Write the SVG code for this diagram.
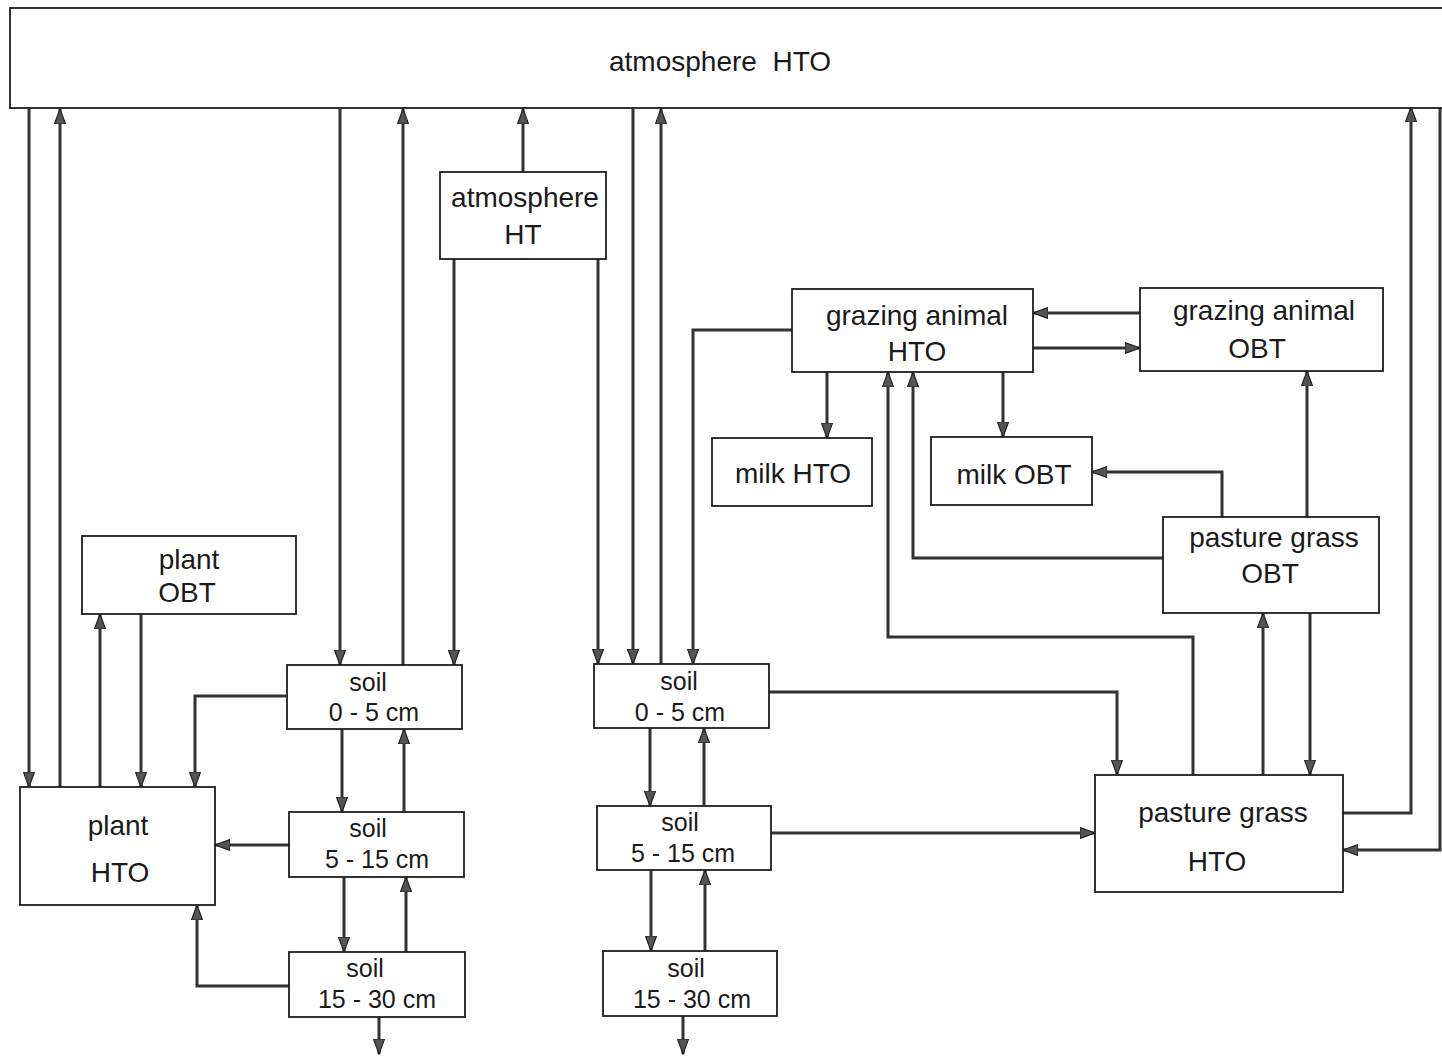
<svg xmlns="http://www.w3.org/2000/svg" width="1442" height="1057" viewBox="0 0 1442 1057">
<style>
.box{fill:#fff;stroke:#1e1e1e;stroke-width:1.8}
.t{font-family:"Liberation Sans",Arial,sans-serif;font-size:28px;fill:#1a1a1a;text-anchor:middle}
.s{font-size:25px}
.c{fill:none;stroke:#333;stroke-width:3;marker-end:url(#ah)}
</style>
<defs>
<marker id="ah" markerUnits="userSpaceOnUse" markerWidth="16" markerHeight="12" refX="15" refY="6" orient="auto">
<path d="M0,0.5 L15,6 L0,11.5 z" fill="#555" stroke="#222" stroke-width="1.2"/>
</marker>
</defs>
<rect width="1442" height="1057" fill="#fff"/>
<g id="connectors">
<path class="c" d="M29,109 V787"/>
<path class="c" d="M60,787 V109"/>
<path class="c" d="M100,787 V614"/>
<path class="c" d="M141,614 V787"/>
<path class="c" d="M287,696 H195 V787"/>
<path class="c" d="M289,845 H215"/>
<path class="c" d="M289,986 H197 V905"/>
<path class="c" d="M340,109 V665"/>
<path class="c" d="M403,665 V109"/>
<path class="c" d="M454,259 V665"/>
<path class="c" d="M523,172 V109"/>
<path class="c" d="M598,259 V664"/>
<path class="c" d="M633,109 V664"/>
<path class="c" d="M661,664 V109"/>
<path class="c" d="M792,330 H693 V664"/>
<path class="c" d="M342,729 V812"/>
<path class="c" d="M404,812 V729"/>
<path class="c" d="M344,877 V952"/>
<path class="c" d="M406,952 V877"/>
<path class="c" d="M379,1017 V1054"/>
<path class="c" d="M650,728 V806"/>
<path class="c" d="M704,806 V728"/>
<path class="c" d="M651,870 V951"/>
<path class="c" d="M705,951 V870"/>
<path class="c" d="M683,1016 V1054"/>
<path class="c" d="M769,692 H1117 V775"/>
<path class="c" d="M771,833 H1095"/>
<path class="c" d="M1140,313 H1033"/>
<path class="c" d="M1033,348 H1140"/>
<path class="c" d="M827,372 V438"/>
<path class="c" d="M1003,372 V437"/>
<path class="c" d="M1193,775 V637 H888 V372"/>
<path class="c" d="M1163,558 H913 V372"/>
<path class="c" d="M1222,517 V472 H1092"/>
<path class="c" d="M1307,517 V371"/>
<path class="c" d="M1263,775 V613"/>
<path class="c" d="M1310,613 V775"/>
<path class="c" d="M1343,813 H1411 V107"/>
<path class="c" d="M1440,107 V850 H1343"/>
</g>
<g id="atmosphere-hto">
<rect class="box" x="10" y="8" width="1450" height="100"/>
<text class="t" x="720" y="71" xml:space="preserve">atmosphere  HTO</text>
</g>
<g id="atmosphere-ht">
<rect class="box" x="440" y="172" width="166" height="87"/>
<text class="t" x="525" y="207">atmosphere</text>
<text class="t" x="523" y="244">HT</text>
</g>
<g id="grazing-animal-hto">
<rect class="box" x="792" y="289" width="241" height="83"/>
<text class="t" x="917" y="325">grazing animal</text>
<text class="t" x="917" y="361">HTO</text>
</g>
<g id="grazing-animal-obt">
<rect class="box" x="1140" y="288" width="243" height="83"/>
<text class="t" x="1264" y="320">grazing animal</text>
<text class="t" x="1257" y="358">OBT</text>
</g>
<g id="milk-hto">
<rect class="box" x="712" y="438" width="160" height="68"/>
<text class="t" x="793" y="483">milk HTO</text>
</g>
<g id="milk-obt">
<rect class="box" x="931" y="437" width="161" height="68"/>
<text class="t" x="1014" y="484">milk OBT</text>
</g>
<g id="pasture-grass-obt">
<rect class="box" x="1163" y="517" width="216" height="96"/>
<text class="t" x="1274" y="547">pasture grass</text>
<text class="t" x="1270" y="583">OBT</text>
</g>
<g id="pasture-grass-hto">
<rect class="box" x="1095" y="775" width="248" height="117"/>
<text class="t" x="1223" y="822">pasture grass</text>
<text class="t" x="1217" y="871">HTO</text>
</g>
<g id="plant-obt">
<rect class="box" x="82" y="536" width="214" height="78"/>
<text class="t" x="189" y="569">plant</text>
<text class="t" x="187" y="602">OBT</text>
</g>
<g id="plant-hto">
<rect class="box" x="20" y="787" width="195" height="118"/>
<text class="t" x="118" y="835">plant</text>
<text class="t" x="120" y="882">HTO</text>
</g>
<g id="soil-left-0-5">
<rect class="box" x="287" y="665" width="175" height="64"/>
<text class="t s" x="368" y="691">soil</text>
<text class="t s" x="374" y="721">0 - 5 cm</text>
</g>
<g id="soil-left-5-15">
<rect class="box" x="289" y="812" width="175" height="65"/>
<text class="t s" x="368" y="837">soil</text>
<text class="t s" x="377" y="868">5 - 15 cm</text>
</g>
<g id="soil-left-15-30">
<rect class="box" x="289" y="952" width="176" height="65"/>
<text class="t s" x="365" y="977">soil</text>
<text class="t s" x="377" y="1008">15 - 30 cm</text>
</g>
<g id="soil-right-0-5">
<rect class="box" x="594" y="664" width="175" height="64"/>
<text class="t s" x="679" y="690">soil</text>
<text class="t s" x="680" y="721">0 - 5 cm</text>
</g>
<g id="soil-right-5-15">
<rect class="box" x="597" y="806" width="174" height="64"/>
<text class="t s" x="680" y="831">soil</text>
<text class="t s" x="683" y="862">5 - 15 cm</text>
</g>
<g id="soil-right-15-30">
<rect class="box" x="603" y="951" width="174" height="65"/>
<text class="t s" x="686" y="977">soil</text>
<text class="t s" x="692" y="1008">15 - 30 cm</text>
</g>
</svg>
